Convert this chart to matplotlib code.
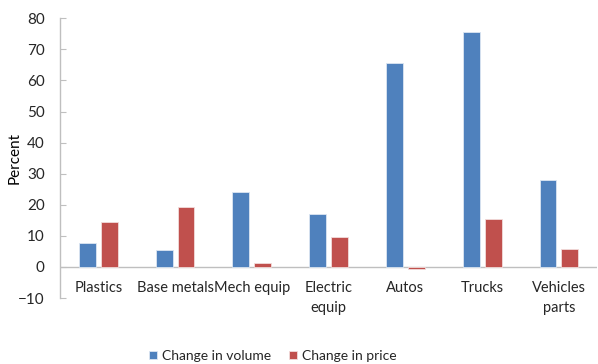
import matplotlib.pyplot as plt
import numpy as np

plt.rcParams['font.family'] = ['Lato', 'DejaVu Sans']

categories = ['Plastics', 'Base metals', 'Mech equip', 'Electric\nequip',
              'Autos', 'Trucks', 'Vehicles\nparts']
volume_change = [7.8, 5.3, 24.0, 16.9, 65.5, 75.6, 28.1]
price_change = [14.4, 19.2, 1.3, 9.6, -0.8, 15.5, 5.7]

blue = '#4F81BD'
red = '#C0504D'
axis_grey = '#BFBFBF'
text_col = '#262626'
fs = 10.5

fig = plt.figure(figsize=(5.98, 3.64), dpi=100)
ax = fig.add_axes([0.1003, 0.1813, 0.8985, 0.7684])

x = np.arange(len(categories))
w = 0.22
gap = 0.065
ax.bar(x - (w + gap) / 2, volume_change, w, color=blue, edgecolor='#DCE6F2',
       linewidth=0.6, label='Change in volume', zorder=2)
ax.bar(x + (w + gap) / 2, price_change, w, color=red, edgecolor='#F2DCDB',
       linewidth=0.6, label='Change in price', zorder=2)

ax.set_xlim(-0.5, len(categories) - 0.5)
ax.set_ylim(-10, 80)
ax.set_yticks(range(-10, 81, 10))
ax.axhline(0, color=axis_grey, linewidth=1.0, zorder=1)

for side in ('top', 'right', 'bottom'):
    ax.spines[side].set_visible(False)
ax.spines['left'].set_color(axis_grey)
ax.spines['left'].set_linewidth(1.0)

ax.tick_params(axis='y', direction='in', length=4, color=axis_grey,
               labelsize=fs + 0.5, labelcolor=text_col, pad=11)
ax.tick_params(axis='x', length=0)
ax.set_xticks(x)
ax.set_xticklabels([])
for xi, name in zip(x, categories):
    ax.text(xi, -4.5, name, ha='center', va='top', fontsize=fs,
            color=text_col, linespacing=1.55)

ax.set_ylabel('Percent', fontsize=fs + 0.5, color='black')
ax.yaxis.set_label_coords(-0.071, 0.5)

ax.legend(loc='center', bbox_to_anchor=(0.396, -0.207), ncol=2,
          frameon=False, fontsize=fs - 0.5, handlelength=0.55,
          handleheight=0.55, handletextpad=0.35, columnspacing=1.3,
          labelcolor=text_col, borderpad=0)

fig.savefig('out.png', dpi=100)
